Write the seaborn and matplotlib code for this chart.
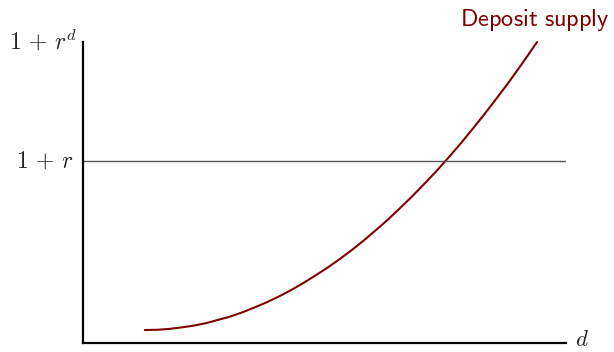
import matplotlib
matplotlib.use("Agg")
import matplotlib.pyplot as plt
import seaborn as sns
import pandas as pd

# deposits d and deposit rate (axis units 0-10)
deposits = [1.28, 1.55, 1.8, 2.05, 2.3, 2.55, 2.8, 3.05, 3.3, 3.55, 3.8, 4.05, 4.3,
            4.55, 4.8, 5.05, 5.3, 5.55, 5.8, 6.05, 6.3, 6.55, 6.8, 7.05, 7.3, 7.55,
            7.8, 8.05, 8.3, 8.55, 8.8, 9.1, 9.4]
rate_d = [0.43, 0.44, 0.47, 0.52, 0.58, 0.66, 0.77, 0.88, 1.02, 1.18, 1.35, 1.54, 1.75,
          1.98, 2.23, 2.49, 2.77, 3.07, 3.39, 3.73, 4.08, 4.46, 4.85, 5.26, 5.68, 6.13,
          6.59, 7.08, 7.58, 8.10, 8.63, 9.30, 10.0]
market_rate = 6.05
x_max = 10.0
y_max = 10.0

plt.rcParams['mathtext.fontset'] = 'cm'
sns.set_style("white")

df = pd.DataFrame({'d': deposits, 'rd': rate_d})

fig = plt.figure(figsize=(6.14, 3.52), dpi=100)
ax = fig.add_axes([83 / 614, 9 / 352, 483 / 614, 301 / 352])

sns.lineplot(data=df, x='d', y='rd', ax=ax, color='#800000', lw=1.5, clip_on=False)
ax.axhline(market_rate, color='#555555', lw=1.0)

ax.set_xlim(0, x_max)
ax.set_ylim(0, y_max)
ax.set_xticks([])
ax.set_yticks([])
ax.set_xlabel('')
ax.set_ylabel('')
for s in ['top', 'right']:
    ax.spines[s].set_visible(False)
for s in ['left', 'bottom']:
    ax.spines[s].set_color('black')
    ax.spines[s].set_linewidth(1.6)

ax.text(-0.13, y_max, r'$1\,+\,r^d$', ha='right', va='center', fontsize=17)
ax.text(-0.2, market_rate, r'$1\,+\,r$', ha='right', va='center', fontsize=17)
ax.text(x_max + 0.18, 0.12, r'$d$', ha='left', va='center', fontsize=16.5)
ax.text(9.35, y_max + 0.72, r'$\mathsf{Deposit\ supply}$', ha='center', va='center',
        fontsize=17.5, color='#800000')

fig.savefig('out.png', dpi=100)
